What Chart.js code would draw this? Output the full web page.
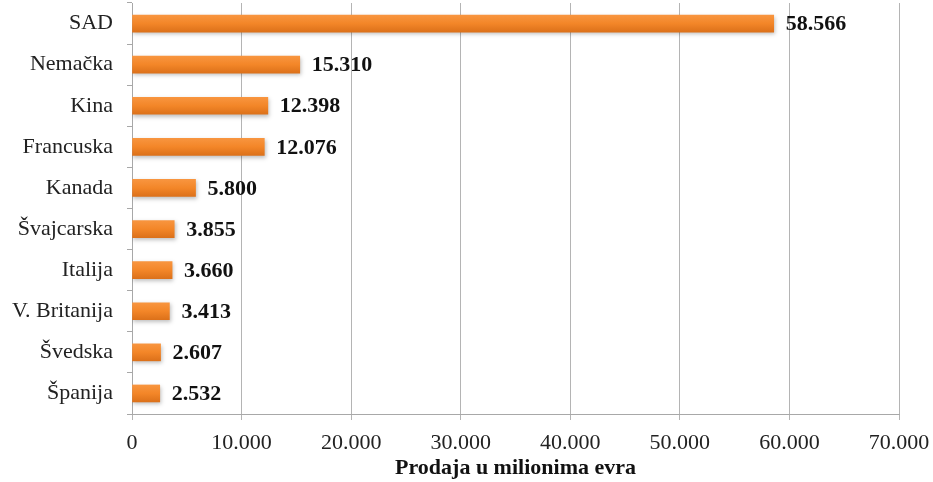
<!DOCTYPE html>
<html>
<head>
<meta charset="utf-8">
<script src="https://cdn.jsdelivr.net/npm/chart.js@4/dist/chart.umd.min.js"></script>
<style>
  html, body { margin: 0; padding: 0; background: #fff; }
  #wrap { width: 933px; height: 482px; }
</style>
</head>
<body>
<div id="wrap"><canvas id="salesChart"></canvas></div>
<script>
// countries, top to bottom
const countries = ['SAD', 'Nemačka', 'Kina', 'Francuska', 'Kanada', 'Švajcarska', 'Italija', 'V. Britanija', 'Švedska', 'Španija'];
// sales in millions of euros
const sales = [58566, 15310, 12398, 12076, 5800, 3855, 3660, 3413, 2607, 2532];
const axisTitle = 'Prodaja u milionima evra';

const fmt = (v) => v.toLocaleString('de-DE');
const serif = "'Liberation Serif', 'Times New Roman', serif";
const barThickness = 17;

// orange bar, lighter on top and darker at the bottom
const barFill = (context) => {
    const chart = context.chart;
    const yScale = chart.scales.y;
    if (!chart.chartArea || !yScale) return '#F28527';
    const y = yScale.getPixelForValue(context.dataIndex);
    const g = chart.ctx.createLinearGradient(0, y - barThickness / 2, 0, y + barThickness / 2);
    g.addColorStop(0, '#F8953F');
    g.addColorStop(0.5, '#F38628');
    g.addColorStop(1, '#DC711A');
    return g;
};

// draws the bold value next to each bar
const valueLabels = {
    id: 'valueLabels',
    afterDatasetsDraw(chart) {
        const ctx = chart.ctx;
        const meta = chart.getDatasetMeta(0);
        ctx.save();
        ctx.font = 'bold 22px ' + serif;
        ctx.fillStyle = '#111';
        ctx.textBaseline = 'middle';
        ctx.textAlign = 'left';
        meta.data.forEach((bar, i) => {
            ctx.fillText(fmt(sales[i]), bar.x + 12, bar.y + 1);
        });
        ctx.restore();
    }
};

// soft shadow under the bars
const barShadow = {
    id: 'barShadow',
    beforeDatasetsDraw(chart) {
        chart.ctx.save();
        chart.ctx.shadowColor = 'rgba(0,0,0,0.25)';
        chart.ctx.shadowBlur = 4;
        chart.ctx.shadowOffsetX = 1;
        chart.ctx.shadowOffsetY = 2;
    },
    afterDatasetsDraw(chart) {
        chart.ctx.restore();
    }
};

new Chart(document.getElementById('salesChart'), {
    type: 'bar',
    data: {
        labels: countries,
        datasets: [{
            data: sales,
            backgroundColor: barFill,
            borderWidth: 0,
            barThickness: barThickness
        }]
    },
    options: {
        indexAxis: 'y',
        responsive: true,
        maintainAspectRatio: false,
        animation: false,
        layout: { padding: { top: 3, right: 34, left: 0, bottom: 0 } },
        plugins: {
            legend: { display: false },
            tooltip: { enabled: false }
        },
        scales: {
            x: {
                min: 0,
                max: 70000,
                ticks: {
                    stepSize: 10000,
                    color: '#222',
                    font: { family: serif, size: 22 },
                    padding: 10,
                    callback: (v) => fmt(v)
                },
                grid: { color: '#b4b4b4', tickLength: 6 },
                border: { color: '#a8a8a8' },
                title: {
                    display: true,
                    text: axisTitle,
                    color: '#111',
                    font: { family: serif, size: 22, weight: 'bold' },
                    padding: { top: 8, bottom: 0 }
                },
                afterFit: (scale) => {
                    scale.height = 68;
                    scale.paddingLeft = 0;
                    scale.paddingRight = 0;
                }
            },
            y: {
                ticks: {
                    color: '#222',
                    font: { family: serif, size: 22 },
                    padding: 14
                },
                grid: { drawOnChartArea: false, tickLength: 5, color: '#a8a8a8', offset: true },
                border: { color: '#a8a8a8' },
                afterFit: (scale) => {
                    scale.width = 132;
                    scale.paddingTop = 0;
                    scale.paddingBottom = 0;
                }
            }
        }
    },
    plugins: [barShadow, valueLabels]
});
</script>
</body>
</html>
